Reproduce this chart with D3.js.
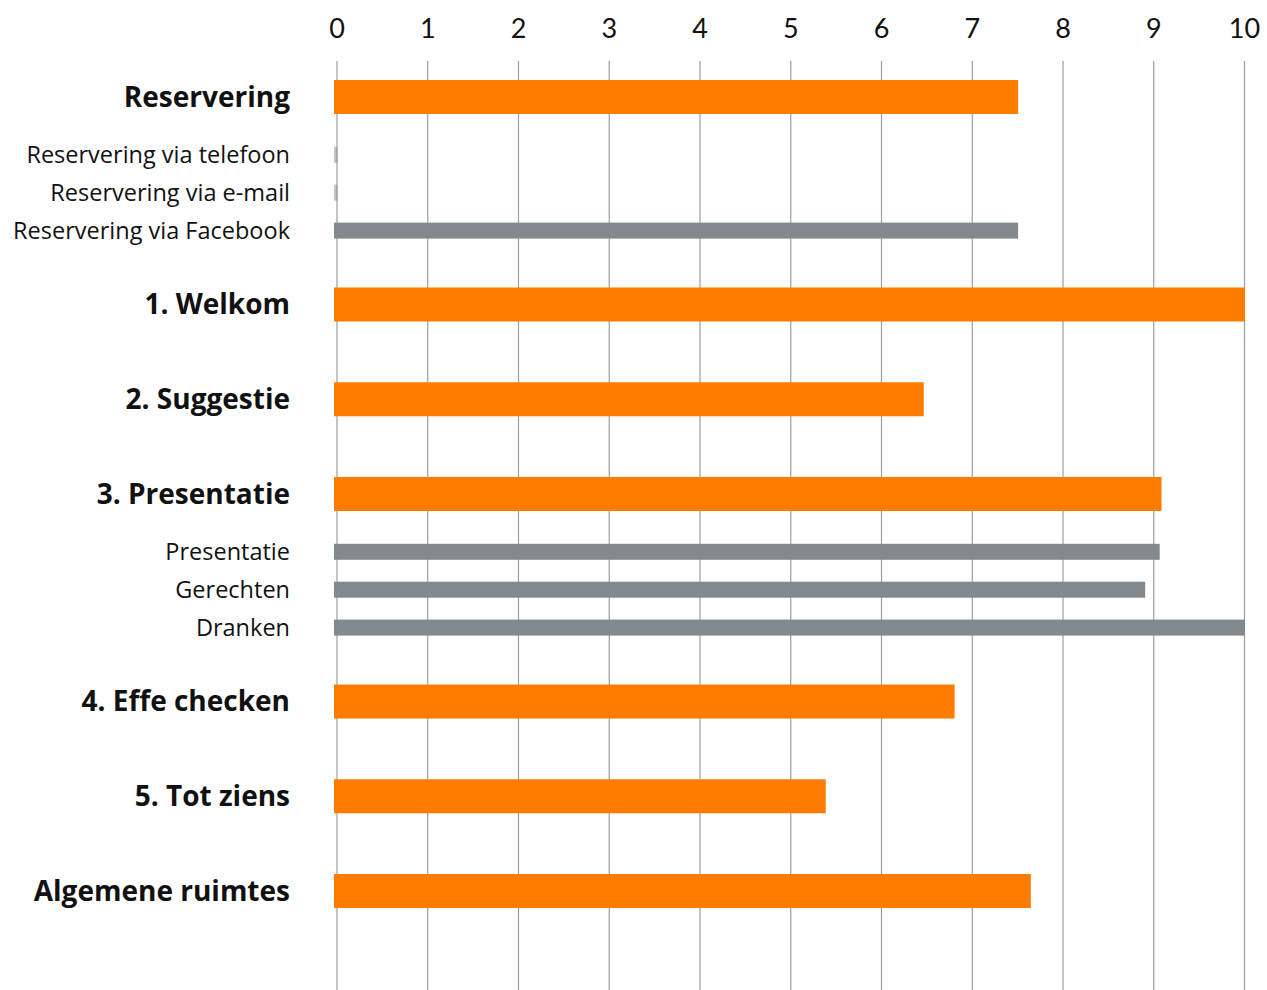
<!DOCTYPE html>
<html>
<head>
<meta charset="utf-8">
<script src="https://cdn.jsdelivr.net/npm/d3@7"></script>
<style>
  body { margin: 0; background: #fff; }
  svg { display: block; font-family: "Open Sans", Lato, sans-serif; }
</style>
</head>
<body>
<svg id="chart"></svg>
<script>
// data
const categories = [
  'Reservering',
  'Reservering via telefoon',
  'Reservering via e-mail',
  'Reservering via Facebook',
  '1. Welkom',
  '2. Suggestie',
  '3. Presentatie',
  'Presentatie',
  'Gerechten',
  'Dranken',
  '4. Effe checken',
  '5. Tot ziens',
  'Algemene ruimtes'
];
const levels = ['main', 'sub', 'sub', 'sub', 'main', 'main', 'main', 'sub', 'sub', 'sub', 'main', 'main', 'main'];
const scores = [7.5, 0, 0, 7.5, 10, 6.46, 9.08, 9.06, 8.9, 10, 6.8, 5.38, 7.64];
const tickValues = [0, 1, 2, 3, 4, 5, 6, 7, 8, 9, 10];

const width = 1267;
const height = 990;
const svg = d3.select('#chart')
  .attr('width', width)
  .attr('height', height);

const xScale = d3.scaleLinear()
  .domain([0, 10])
  .range([336.5, 1244]);

// vertical slots: spacing depends on main/sub transitions
const step = {'main-main': 5, 'main-sub': 3.05, 'sub-sub': 2, 'sub-main': 3.9};
const slots = [];
levels.forEach((lv, i) => {
  if (i === 0) slots.push(0);
  else slots.push(slots[i - 1] + step[levels[i - 1] + '-' + lv]);
});
const yScale = d3.scaleLinear()
  .domain([0, 1])
  .range([97, 97 + 18.95]);

const rows = categories.map((c, i) => ({name: c, level: levels[i], value: scores[i], slot: slots[i]}));

// grid lines + top tick labels
const xAxis = d3.axisTop(xScale)
  .tickValues(tickValues)
  .tickFormat(d3.format('d'))
  .tickSize(-(height - 61))
  .tickPadding(0);

const axisG = svg.append('g')
  .attr('transform', 'translate(0, 61)')
  .call(xAxis);
axisG.select('.domain').remove();
axisG.selectAll('.tick line')
  .attr('stroke', '#9a9fa4')
  .attr('stroke-width', 1.2);
axisG.selectAll('.tick text')
  .attr('y', -23)
  .attr('font-size', 27)
  .attr('font-family', 'Lato, "Open Sans", sans-serif')
  .attr('fill', '#111');

// bars
const barH = {main: 34, sub: 16};
const barColor = {main: '#ff7c00', sub: '#828a8f'};

svg.append('g')
  .selectAll('rect')
  .data(rows)
  .join('rect')
    .attr('x', xScale(0) - 2.5)
    .attr('y', d => yScale(d.slot) - barH[d.level] / 2)
    .attr('width', d => Math.max(xScale(d.value) - xScale(0) + 3.5, 1.5))
    .attr('height', d => barH[d.level])
    .attr('fill', d => barColor[d.level])
    .attr('opacity', d => d.value === 0 ? 0.5 : 1);

// labels
svg.append('g')
  .selectAll('text')
  .data(rows)
  .join('text')
    .attr('x', 290)
    .attr('y', d => yScale(d.slot))
    .attr('dy', '0.35em')
    .attr('text-anchor', 'end')
    .attr('font-size', d => d.level === 'main' ? 28 : 23.5)
    .attr('font-weight', d => d.level === 'main' ? 700 : 400)
    .attr('fill', '#111')
    .text(d => d.name);
</script>
</body>
</html>
